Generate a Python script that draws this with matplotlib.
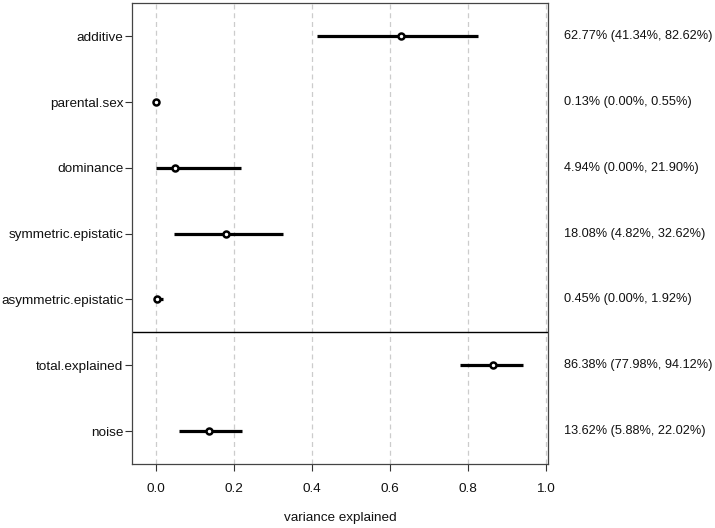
import matplotlib
matplotlib.use("Agg")
import matplotlib.pyplot as plt

plt.rcParams['font.family'] = ['Liberation Sans', 'DejaVu Sans']

categories = ["additive", "parental.sex", "dominance", "symmetric.epistatic",
              "asymmetric.epistatic", "total.explained", "noise"]
estimates = [0.6277, 0.0013, 0.0494, 0.1808, 0.0045, 0.8638, 0.1362]
lower = [0.4134, 0.0000, 0.0000, 0.0482, 0.0000, 0.7798, 0.0588]
upper = [0.8262, 0.0055, 0.2190, 0.3262, 0.0192, 0.9412, 0.2202]
xticks = [0.0, 0.2, 0.4, 0.6, 0.8, 1.0]

fig = plt.figure(figsize=(7.15, 5.28), dpi=100)
ax = fig.add_axes([0.185, 0.1212, 0.7669 - 0.185, 0.9938 - 0.1212])

n = len(categories)
ypos = list(range(n, 0, -1))

for x in xticks:
    ax.axvline(x, color="#cccccc", lw=0.9, ls=(0, (4, 3)), zorder=0)

ax.axhline(2.5, color="black", lw=1.0, zorder=1)

text_x = (564 - 132.3) / (548.3 - 132.3)
for y, e, lo, hi in zip(ypos, estimates, lower, upper):
    ax.plot([lo, hi], [y, y], color="black", lw=2.3, solid_capstyle="butt", zorder=2)
    ax.plot([e], [y], marker="o", ms=4.3, mfc="white", mec="black", mew=1.8, zorder=3)
    ax.text(text_x, y, f"{e*100:.2f}% ({lo*100:.2f}%, {hi*100:.2f}%)",
            transform=ax.get_yaxis_transform(), ha="left", va="center",
            fontsize=9.2, color="#111111", clip_on=False)

ax.set_xlim(-0.06, 1.0067)
ax.set_ylim(0.5, n + 0.5)
ax.set_yticks(ypos)
ax.set_yticklabels(categories, fontsize=9.7, color="#111111")
ax.set_xticks(xticks)
ax.set_xticklabels([f"{v:.1f}" for v in xticks], fontsize=9.7, color="#111111")
ax.tick_params(axis="both", direction="out", length=5, width=0.8, color="#333333")
ax.tick_params(axis="x", pad=9)
ax.tick_params(axis="y", pad=1.5)
for s in ax.spines.values():
    s.set_color("#444444")
    s.set_linewidth(0.9)
ax.set_xlabel("variance explained", fontsize=9.7, color="#111111", labelpad=12)

fig.savefig("out.png", dpi=100)
